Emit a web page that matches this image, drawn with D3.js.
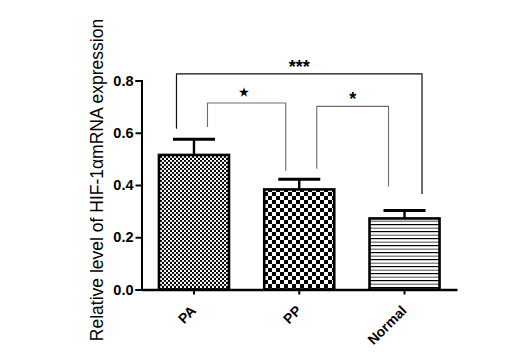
<!DOCTYPE html>
<html><head><meta charset="utf-8">
<script src="https://cdn.jsdelivr.net/npm/d3@7"></script>
<style>
html,body{margin:0;padding:0;background:#fff;}
svg{display:block;font-family:"Liberation Sans",Arial,sans-serif;}
</style></head>
<body><svg id="c" width="506" height="359"></svg>
<script>
const categories = ["PA", "PP", "Normal"];
const means = [0.515, 0.383, 0.272];
const errors = [0.060, 0.039, 0.030];
const yTicks = [0.0, 0.2, 0.4, 0.6, 0.8];
const compFrom = ["PA", "PA", "PP"];
const compTo = ["Normal", "PP", "Normal"];
const compLabel = ["***", "\u2605", "*"];
const compTop = [0.825, 0.714, 0.701];
const compLeftEnd = [0.615, 0.622, 0.462];
const compRightEnd = [0.366, 0.455, 0.394];
const yTitle = "Relative level of HIF-1\u03b1mRNA expression";

const svg = d3.select("#c");
const y = d3.scaleLinear().domain([0, 0.8]).range([289.5, 80.5]);
const x = d3.scaleBand().domain(categories).range([141.5, 457]).paddingInner(0.335).paddingOuter(0.166);

const defs = svg.append("defs");
// PA: fine checker
const p1 = defs.append("pattern").attr("id","pa").attr("patternUnits","userSpaceOnUse").attr("width",4).attr("height",4);
p1.append("rect").attr("width",4).attr("height",4).attr("fill","#fff");
p1.append("rect").attr("width",2).attr("height",2).attr("fill","#000");
p1.append("rect").attr("x",2).attr("y",2).attr("width",2).attr("height",2).attr("fill","#000");
p1.append("rect").attr("y",1).attr("width",4).attr("height",0.6).attr("fill","#888").attr("opacity",0.5);
// PP: coarse checker
const p2 = defs.append("pattern").attr("id","pp").attr("patternUnits","userSpaceOnUse").attr("width",8).attr("height",8);
p2.append("rect").attr("width",8).attr("height",8).attr("fill","#fff");
p2.append("rect").attr("width",4).attr("height",4).attr("fill","#000");
p2.append("rect").attr("x",4).attr("y",4).attr("width",4).attr("height",4).attr("fill","#000");
// Normal: horizontal lines
const p3 = defs.append("pattern").attr("id","nm").attr("patternUnits","userSpaceOnUse").attr("width",8).attr("height",7);
p3.append("rect").attr("width",8).attr("height",7).attr("fill","#fff");
p3.append("rect").attr("y",0).attr("width",8).attr("height",1.2).attr("fill","#000");
p3.append("rect").attr("y",3.5).attr("width",8).attr("height",1.5).attr("fill","#888");
const fills = ["url(#pa)","url(#pp)","url(#nm)"];

// bars
svg.append("g").selectAll("rect").data(categories).join("rect")
  .attr("x", d => x(d))
  .attr("y", (d,i) => y(means[i]))
  .attr("width", x.bandwidth())
  .attr("height", (d,i) => y(0) - y(means[i]))
  .attr("fill", (d,i) => fills[i])
  .attr("stroke", "#000").attr("stroke-width", 2.6);

// error bars
const eg = svg.append("g").attr("stroke","#000");
categories.forEach((c,i) => {
  const cx = x(c) + x.bandwidth()/2;
  eg.append("line").attr("x1",cx).attr("x2",cx).attr("y1",y(means[i])).attr("y2",y(means[i]+errors[i])).attr("stroke-width",2.4);
  eg.append("line").attr("x1",cx-21).attr("x2",cx+21).attr("y1",y(means[i]+errors[i])).attr("y2",y(means[i]+errors[i])).attr("stroke-width",3);
});

// axes
const yAxis = d3.axisLeft(y).tickValues(yTicks).tickFormat(d3.format(".1f")).tickSize(6).tickPadding(2);
const gy = svg.append("g").attr("transform","translate(141.5,0)").call(yAxis);
gy.select(".domain").attr("stroke-width",2);
gy.selectAll(".tick line").attr("stroke-width",2);
gy.selectAll("text").attr("font-size",14.5).attr("font-weight","bold").attr("fill","#000").attr("font-family","'Liberation Sans',Arial,sans-serif");

const xAxis = d3.axisBottom(x).tickSize(5).tickSizeOuter(0);
const gx = svg.append("g").attr("transform","translate(0,289.5)").call(xAxis);
gx.select(".domain").attr("stroke-width",2.4);
gx.selectAll(".tick line").attr("stroke-width",2);
gx.selectAll("text").attr("font-size",14).attr("font-weight","bold").attr("fill","#000")
  .attr("font-family","'Liberation Sans',Arial,sans-serif")
  .attr("text-anchor","end").attr("dy",null).attr("y",null)
  .attr("transform","translate(3,22) rotate(-45)");

// comparisons
const cg = svg.append("g").attr("fill","none");
compFrom.forEach((f,i) => {
  const isMain = i === 0;
  const x1 = isMain ? x(f) + 17.5 : x(f) + x.bandwidth()/2 + 13.5;
  const x2 = isMain ? x(compTo[i]) + 52.5 : x(compTo[i]) + x.bandwidth()/2 - (i===1 ? 13.5 : 16);
  const xl = i === 2 ? x(f) + x.bandwidth()/2 + 17.5 : x1;
  const xr = i === 2 ? x(compTo[i]) + x.bandwidth()/2 - 16 : x2;
  const path = d3.path();
  path.moveTo(xl, y(compLeftEnd[i]));
  path.lineTo(xl, y(compTop[i]));
  path.lineTo(xr, y(compTop[i]));
  path.lineTo(xr, y(compRightEnd[i]));
  cg.append("path").attr("d", path.toString())
    .attr("stroke", isMain ? "#111" : "#6e6e6e").attr("stroke-width", isMain ? 1.2 : 1.1);
  svg.append("text").attr("x",(xl+xr)/2 - (i===1 ? 3 : 0)).attr("y", y(compTop[i]) - (i===1 ? 7 : 1))
    .attr("text-anchor","middle")
    .attr("font-size", i===1 ? 11 : 18).attr("font-weight","bold").attr("fill","#000")
    .text(compLabel[i]);
});

// y title
svg.append("text").attr("transform","translate(103,180) rotate(-90)")
  .attr("text-anchor","middle").attr("font-size",17.5).attr("fill","#000")
  .text(yTitle);
</script></body></html>
